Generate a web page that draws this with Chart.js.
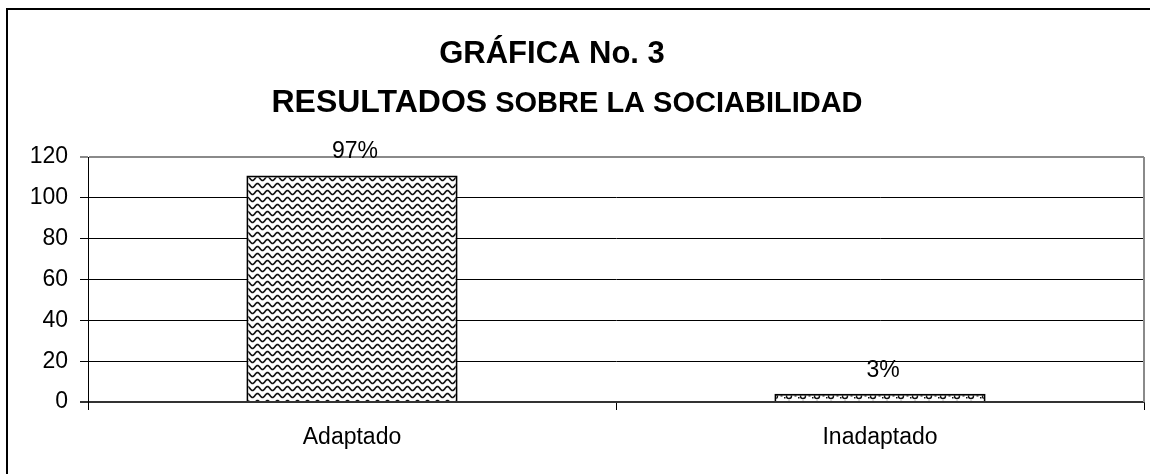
<!DOCTYPE html>
<html>
<head>
<meta charset="utf-8">
<script src="https://cdn.jsdelivr.net/npm/chart.js@4"></script>
<style>
  html, body { margin: 0; padding: 0; background: #fff; }
  #wrap { width: 1150px; height: 474px; position: relative; }
</style>
</head>
<body>
<div id="wrap"><canvas id="c" width="1150" height="474"></canvas></div>
<script>
const categories = ['Adaptado', 'Inadaptado'];
const values = [111, 4];
const pctLabels = ['97%', '3%'];
const yTicks = [0, 20, 40, 60, 80, 100, 120];
const titleText = 'GRÁFICA No. 3';
const subtitleBig = 'RESULTADOS';
const subtitleRest = ' SOBRE LA SOCIABILIDAD';

const FONT = "'Liberation Sans', Arial, Helvetica, sans-serif";

function wavePattern() {
  const c = document.createElement('canvas');
  c.width = 10; c.height = 7;
  const g = c.getContext('2d');
  g.fillStyle = '#fff'; g.fillRect(0, 0, 10, 7);
  g.strokeStyle = '#111'; g.lineWidth = 1.6;
  for (let off = -7; off <= 7; off += 7) {
    g.beginPath();
    for (let x = -1; x <= 11; x += 0.5) {
      const y = off + 3.5 + 2.0 * Math.sin(2 * Math.PI * x / 10);
      if (x === -1) g.moveTo(x, y); else g.lineTo(x, y);
    }
    g.stroke();
  }
  return g.createPattern(c, 'repeat');
}
function circlePattern() {
  const c = document.createElement('canvas');
  c.width = 14; c.height = 8;
  const g = c.getContext('2d');
  g.fillStyle = '#fff'; g.fillRect(0, 0, 14, 8);
  g.strokeStyle = '#111'; g.lineWidth = 1.4;
  g.beginPath(); g.arc(5, 4, 2.5, 0, Math.PI * 2); g.stroke();
  g.fillStyle = '#111';
  g.fillRect(10.5, 2.5, 2, 2);
  g.fillRect(0, 5, 1.5, 1.5);
  return g.createPattern(c, 'repeat');
}

const framePlugin = {
  id: 'frame',
  beforeDraw(chart) {
    const ctx = chart.ctx;
    ctx.save();
    ctx.fillStyle = '#fff';
    ctx.fillRect(0, 0, chart.width, chart.height);
    ctx.strokeStyle = '#000';
    ctx.lineWidth = 2;
    ctx.beginPath();
    ctx.moveTo(7, chart.height + 2);
    ctx.lineTo(7, 9);
    ctx.lineTo(chart.width + 2, 9);
    ctx.stroke();
    ctx.restore();
  },
  afterDraw(chart) {
    const ctx = chart.ctx;
    const a = chart.chartArea;
    ctx.save();
    ctx.strokeStyle = '#8a8a8a';
    ctx.lineWidth = 2;
    ctx.beginPath();
    ctx.moveTo(a.right, a.top);
    ctx.lineTo(a.right, a.bottom);
    ctx.stroke();
    ctx.fillStyle = '#000';
    ctx.textBaseline = 'alphabetic';
    ctx.textAlign = 'center';
    ctx.font = 'bold 31px ' + FONT;
    ctx.fillText(titleText, 552, 63);
    ctx.textAlign = 'left';
    ctx.font = 'bold 32px ' + FONT;
    const w1 = ctx.measureText(subtitleBig).width;
    ctx.font = 'bold 29px ' + FONT;
    const w2 = ctx.measureText(subtitleRest).width;
    const x0 = 567 - (w1 + w2) / 2;
    ctx.font = 'bold 32px ' + FONT;
    ctx.fillText(subtitleBig, x0, 112);
    ctx.font = 'bold 29px ' + FONT;
    ctx.fillText(subtitleRest, x0 + w1, 112);
    ctx.restore();
  },
  afterDatasetsDraw(chart) {
    const ctx = chart.ctx;
    const meta = chart.getDatasetMeta(0);
    ctx.save();
    ctx.fillStyle = '#000';
    ctx.font = '23px ' + FONT;
    ctx.textAlign = 'center';
    ctx.textBaseline = 'alphabetic';
    meta.data.forEach((bar, i) => {
      ctx.fillText(pctLabels[i], bar.x + 3, bar.y - 17);
    });
    ctx.restore();
  }
};

const ctx = document.getElementById('c').getContext('2d');
new Chart(ctx, {
  type: 'bar',
  data: {
    labels: categories,
    datasets: [{
      data: values,
      backgroundColor: [wavePattern(), circlePattern()],
      borderColor: '#000',
      borderWidth: 2,
      categoryPercentage: 1.0,
      barPercentage: 0.4
    }]
  },
  options: {
    responsive: false,
    animation: false,
    devicePixelRatio: 1,
    layout: { padding: { top: 157, right: 6, left: 0, bottom: 0 } },
    plugins: { legend: { display: false }, title: { display: false }, tooltip: { enabled: false } },
    scales: {
      x: {
        afterFit(s) { s.height = 72; },
        grid: { display: true, drawOnChartArea: false, drawTicks: true, tickLength: 8, color: '#000', lineWidth: 1, offset: true },
        border: { display: true, color: '#333', width: 2 },
        ticks: { color: '#000', font: { family: FONT, size: 23 }, padding: 14, maxRotation: 0 }
      },
      y: {
        min: 0, max: 120,
        afterFit(s) { s.width = 88; },
        afterBuildTicks(s) { s.ticks = yTicks.map(v => ({ value: v })); },
        grid: {
          drawTicks: true, tickLength: 8,
          color: c => c.tick && c.tick.value === 120 ? '#8a8a8a' : (c.tick && c.tick.value === 0 ? '#333' : '#000'),
          lineWidth: c => c.tick && (c.tick.value === 120 || c.tick.value === 0) ? 2 : 1
        },
        border: { display: true, color: '#000', width: 1 },
        ticks: { color: '#000', font: { family: FONT, size: 23 }, padding: 12, stepSize: 20 }
      }
    }
  },
  plugins: [framePlugin]
});
</script>
</body>
</html>
